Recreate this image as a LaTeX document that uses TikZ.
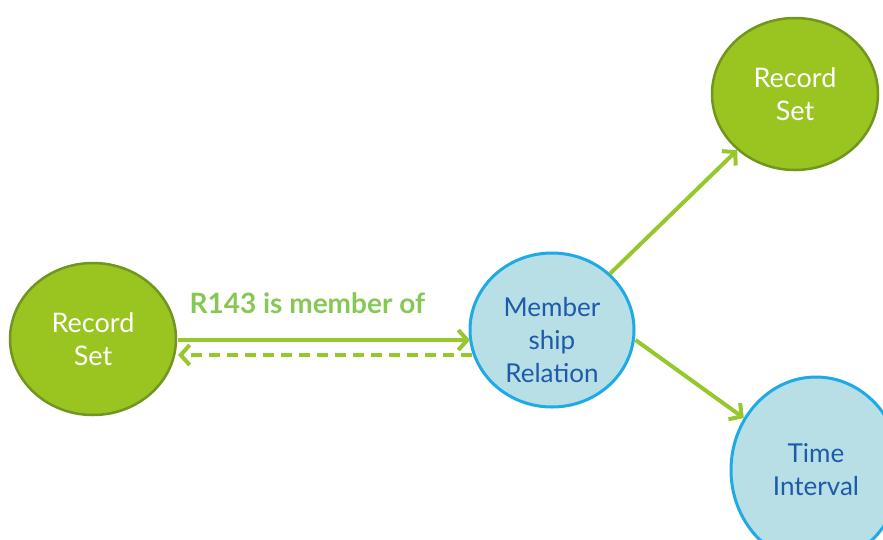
\documentclass[tikz,border=0pt]{standalone}
\usepackage{fontspec}
\setmainfont{Lato}
\usetikzlibrary{shapes.geometric,arrows.meta}
\definecolor{gfill}{RGB}{154,196,32}
\definecolor{gborder}{RGB}{112,150,30}
\definecolor{bfill}{RGB}{184,222,230}
\definecolor{bborder}{RGB}{30,170,228}
\definecolor{btext}{RGB}{30,90,170}
\definecolor{garrow}{RGB}{150,200,45}
\definecolor{glabel}{RGB}{135,200,85}
\tikzset{
  greennode/.style={ellipse, draw=gborder, fill=gfill, line width=2.5pt, minimum width=166pt, minimum height=152pt, inner sep=0pt, align=center, text=white, font=\fontsize{27}{33}\selectfont},
  bluenode/.style={ellipse, draw=bborder, fill=bfill, line width=3pt, minimum width=164pt, minimum height=154pt, inner sep=0pt, align=center, text=btext, font=\fontsize{26}{33}\selectfont},
  bluetext/.style={align=center, text=btext, font=\fontsize{26}{33}\selectfont, inner sep=0pt},
  conn/.style={draw=garrow, line width=4pt, -{Straight Barb[length=9pt,width=20pt,line width=4pt]}},
}
\begin{document}
\begin{tikzpicture}[x=1pt,y=-1pt]
\useasboundingbox (0,0) rectangle (883,539);
\node[greennode] (rs1) at (93,339) {Record\\Set};
\node[bluenode] (mr) at (552,330) {};
\node[bluetext] (mrt) at (552,340) {Member\\ship\\Relation};
\node[greennode] (rs2) at (795,94) {Record\\Set};
\node[bluenode, minimum width=170pt, minimum height=186pt] (ti) at (816,470) {Time\\Interval};
\coordinate (a1) at (178,340);
\coordinate (a2) at (470,340);
\coordinate (b1) at (472,355);
\coordinate (b2) at (178,355);
\draw[conn] (a1) -- (a2);
\draw[conn, dash pattern=on 11pt off 7pt] (b1) -- (b2);
\node[text=glabel, font=\bfseries\fontsize{28}{30}\selectfont, anchor=base west] (lab) at (186,313) {R143 is member of};
\draw[conn] (mr) -- (rs2);
\path (mr.east) ++(0,10) coordinate (c0);
\draw[conn] (c0) -- (ti);
\end{tikzpicture}
\end{document}
